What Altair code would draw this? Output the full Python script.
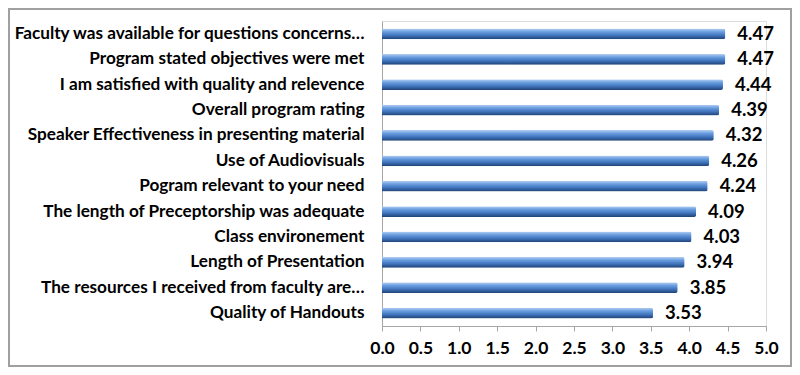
import altair as alt
import pandas as pd

categories = [
    "Faculty was available for questions concerns…",
    "Program stated objectives were met",
    "I am satisfied with quality and relevence",
    "Overall program rating",
    "Speaker Effectiveness in presenting material",
    "Use of Audiovisuals",
    "Pogram relevant to your need",
    "The length of Preceptorship was adequate",
    "Class environement",
    "Length of Presentation",
    "The resources I received from faculty are…",
    "Quality of Handouts",
]
values = [4.47, 4.47, 4.44, 4.39, 4.32, 4.26, 4.24, 4.09, 4.03, 3.94, 3.85, 3.53]
x_ticks = [0.0, 0.5, 1.0, 1.5, 2.0, 2.5, 3.0, 3.5, 4.0, 4.5, 5.0]

df = pd.DataFrame({"cat": categories, "val": values})
df["lbl"] = df["val"].map(lambda v: f"{v:.2f}")

FONT = "Lato"

y_enc = alt.Y("cat:N", sort=categories, title=None,
              scale=alt.Scale(paddingInner=0.58, paddingOuter=0.3),
              axis=alt.Axis(labelFont=FONT, labelFontSize=17.2, labelFontWeight="bold",
                            labelColor="#000000", labelPadding=18, labelLimit=380,
                            ticks=False, domainColor="#a6a6a6", grid=False))
x_enc = alt.X("val:Q", title=None,
              scale=alt.Scale(domain=[0, 5], nice=False, zero=True),
              axis=alt.Axis(values=x_ticks,
                            format=".1f", labelFont=FONT, labelFontSize=17.5,
                            labelFontWeight="bold", labelColor="#000000",
                            tickSize=5, tickColor="#a6a6a6", domainColor="#a6a6a6",
                            labelPadding=8, grid=False, labelFlush=False,
                            labelOverlap=False))

grad = alt.Gradient(
    gradient="linear",
    stops=[alt.GradientStop(color="#b3d0f2", offset=0),
           alt.GradientStop(color="#6a9de0", offset=0.3),
           alt.GradientStop(color="#3f73bb", offset=0.65),
           alt.GradientStop(color="#1f4275", offset=1)],
    x1=0, x2=0, y1=0, y2=1,
)

base = alt.Chart(df)

bars = base.mark_bar(color=grad, cornerRadiusTopRight=2, cornerRadiusBottomRight=2).encode(
    x=x_enc, y=y_enc
)

text = base.mark_text(align="left", baseline="middle", dx=12, font=FONT,
                      fontSize=18.5, fontWeight="bold", color="#000000").encode(
    x=x_enc, y=y_enc, text="lbl:N"
)

border = alt.Chart(pd.DataFrame({"a": [0]})).mark_rect(
    fill=None, stroke="#a0a0a0", strokeWidth=2, clip=False
).encode(x=alt.value(-373), x2=alt.value(409), y=alt.value(-12), y2=alt.value(345))

chart = alt.layer(bars, text, border).properties(
    width=384, height=305,
    autosize=alt.AutoSizeParams(type="none"),
    padding={"left": 374, "top": 13, "right": 26, "bottom": 41},
).configure_view(stroke=None).configure(background="#ffffff")

chart.save("out.html", embed_options={"renderer": "svg", "actions": False})
